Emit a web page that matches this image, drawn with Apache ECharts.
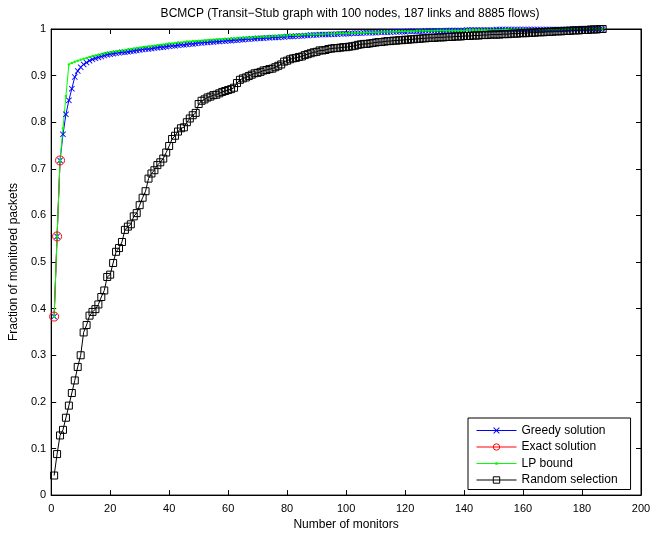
<!DOCTYPE html>
<html>
<head>
<meta charset="utf-8">
<script src="https://cdn.jsdelivr.net/npm/echarts@6/dist/echarts.min.js"></script>
<style>
  html, body { margin: 0; padding: 0; background: #fff; }
  #main { width: 654px; height: 536px; }
</style>
</head>
<body>
<div id="main"></div>
<script>
// number of monitors 1..187
const monitors = Array.from({ length: 187 }, (_, i) => i + 1);

const greedy = [
  0.383, 0.555, 0.718, 0.774, 0.817, 0.847, 0.872, 0.897, 0.910, 0.918,
  0.924, 0.928, 0.932, 0.935, 0.937, 0.939, 0.941, 0.943, 0.945, 0.946,
  0.947, 0.948, 0.949, 0.950, 0.950, 0.951, 0.952, 0.953, 0.954, 0.955,
  0.956, 0.957, 0.957, 0.958, 0.959, 0.960, 0.961, 0.961, 0.962, 0.963,
  0.964, 0.964, 0.965, 0.966, 0.966, 0.967, 0.968, 0.968, 0.969, 0.970,
  0.970, 0.971, 0.971, 0.972, 0.972, 0.973, 0.973, 0.974, 0.974, 0.975,
  0.975, 0.976, 0.976, 0.977, 0.977, 0.978, 0.978, 0.979, 0.979, 0.980,
  0.980, 0.980, 0.981, 0.981, 0.982, 0.982, 0.982, 0.983, 0.983, 0.984,
  0.984, 0.984, 0.985, 0.985, 0.985, 0.986, 0.986, 0.987, 0.987, 0.987,
  0.988, 0.988, 0.988, 0.988, 0.989, 0.989, 0.989, 0.990, 0.990, 0.990,
  0.990, 0.991, 0.991, 0.991, 0.991, 0.992, 0.992, 0.992, 0.992, 0.992,
  0.993, 0.993, 0.993, 0.993, 0.993, 0.994, 0.994, 0.994, 0.994, 0.994,
  0.995, 0.995, 0.995, 0.995, 0.995, 0.995, 0.996, 0.996, 0.996, 0.996,
  0.996, 0.996, 0.996, 0.997, 0.997, 0.997, 0.997, 0.997, 0.997, 0.997,
  0.998, 0.998, 0.998, 0.998, 0.998, 0.998, 0.998, 0.998, 0.998, 0.998,
  0.999, 0.999, 0.999, 0.999, 0.999, 0.999, 0.999, 0.999, 0.999, 0.999,
  0.999, 0.999, 0.999, 0.999, 0.999, 0.999, 0.999, 0.999, 0.999, 0.999,
  0.999, 0.999, 0.999, 0.999, 0.999, 1.000, 1.000, 1.000, 1.000, 1.000,
  1.000, 1.000, 1.000, 1.000, 1.000, 1.000, 1.000
];

const exactX = [1, 2, 3];
const exact = [0.383, 0.555, 0.718];

const lpBound = [
  0.383, 0.555, 0.718, 0.787, 0.856, 0.924, 0.927, 0.930, 0.932, 0.934,
  0.936, 0.938, 0.940, 0.942, 0.943, 0.945, 0.946, 0.948, 0.949, 0.950,
  0.951, 0.952, 0.953, 0.954, 0.955, 0.956, 0.957, 0.958, 0.959, 0.960,
  0.961, 0.962, 0.963, 0.963, 0.964, 0.965, 0.966, 0.967, 0.968, 0.969,
  0.969, 0.970, 0.971, 0.971, 0.972, 0.973, 0.973, 0.974, 0.974, 0.975,
  0.975, 0.976, 0.976, 0.977, 0.977, 0.978, 0.978, 0.978, 0.979, 0.979,
  0.980, 0.980, 0.980, 0.981, 0.981, 0.982, 0.982, 0.982, 0.983, 0.983,
  0.983, 0.984, 0.984, 0.984, 0.985, 0.985, 0.985, 0.986, 0.986, 0.986,
  0.987, 0.987, 0.987, 0.987, 0.988, 0.988, 0.988, 0.988, 0.989, 0.989,
  0.989, 0.989, 0.990, 0.990, 0.990, 0.990, 0.991, 0.991, 0.991, 0.991,
  0.991, 0.992, 0.992, 0.992, 0.992, 0.992, 0.993, 0.993, 0.993, 0.993,
  0.993, 0.994, 0.994, 0.994, 0.994, 0.994, 0.994, 0.995, 0.995, 0.995,
  0.995, 0.995, 0.995, 0.996, 0.996, 0.996, 0.996, 0.996, 0.996, 0.996,
  0.997, 0.997, 0.997, 0.997, 0.997, 0.997, 0.997, 0.997, 0.997, 0.997,
  0.998, 0.998, 0.998, 0.998, 0.998, 0.998, 0.998, 0.998, 0.998, 0.998,
  0.998, 0.998, 0.998, 0.999, 0.999, 0.999, 0.999, 0.999, 0.999, 0.999,
  0.999, 0.999, 0.999, 0.999, 0.999, 0.999, 0.999, 0.999, 0.999, 0.999,
  0.999, 0.999, 1.000, 1.000, 1.000, 1.000, 1.000, 1.000, 1.000, 1.000,
  1.000, 1.000, 1.000, 1.000, 1.000, 1.000, 1.000
];

const randomSel = [
  0.042, 0.088, 0.128, 0.140, 0.166, 0.192, 0.219, 0.246, 0.275, 0.300,
  0.349, 0.365, 0.385, 0.393, 0.399, 0.409, 0.425, 0.439, 0.468, 0.473,
  0.498, 0.522, 0.530, 0.543, 0.569, 0.576, 0.581, 0.598, 0.605, 0.622,
  0.638, 0.652, 0.679, 0.690, 0.697, 0.708, 0.714, 0.722, 0.735, 0.749,
  0.764, 0.771, 0.780, 0.787, 0.789, 0.800, 0.808, 0.815, 0.820, 0.839,
  0.846, 0.849, 0.853, 0.855, 0.858, 0.859, 0.862, 0.865, 0.867, 0.869,
  0.871, 0.874, 0.884, 0.891, 0.894, 0.896, 0.899, 0.902, 0.905, 0.906,
  0.908, 0.911, 0.912, 0.914, 0.915, 0.918, 0.921, 0.924, 0.930, 0.932,
  0.935, 0.937, 0.938, 0.940, 0.941, 0.944, 0.946, 0.948, 0.950, 0.951,
  0.954, 0.954, 0.955, 0.957, 0.958, 0.959, 0.959, 0.960, 0.961, 0.961,
  0.962, 0.963, 0.964, 0.966, 0.967, 0.968, 0.968, 0.969, 0.970, 0.971,
  0.972, 0.972, 0.973, 0.974, 0.974, 0.975, 0.975, 0.976, 0.976, 0.977,
  0.977, 0.978, 0.978, 0.979, 0.979, 0.980, 0.980, 0.981, 0.981, 0.981,
  0.982, 0.982, 0.982, 0.983, 0.983, 0.983, 0.984, 0.984, 0.984, 0.985,
  0.985, 0.985, 0.986, 0.986, 0.986, 0.987, 0.987, 0.987, 0.988, 0.988,
  0.988, 0.988, 0.989, 0.989, 0.989, 0.990, 0.990, 0.990, 0.991, 0.991,
  0.991, 0.992, 0.992, 0.992, 0.993, 0.993, 0.993, 0.994, 0.994, 0.994,
  0.995, 0.995, 0.995, 0.996, 0.996, 0.996, 0.997, 0.997, 0.997, 0.998,
  0.998, 0.998, 0.999, 0.999, 0.999, 1.000, 1.000
];

const seriesNames = ["Greedy solution", "Exact solution", "LP bound", "Random selection"];
const seriesColors = ["#0000ff", "#ff0000", "#00ff00", "#000000"];

const pairs = (xs, ys) => xs.map((x, i) => [x, ys[i]]);

const FONT = "Liberation Sans, Arial, Helvetica, sans-serif";
const crossPath = "path://M0,1L1,0L5,4L9,0L10,1L6,5L10,9L9,10L5,6L1,10L0,9L4,5Z";
// legend sample for LP bound: thin line with a small dot in the middle
const lpIcon = "path://M0,0.75h18.75v1h-18.75z M18.75,0h2.5v2.5h-2.5z M21.25,0.75h18.75v1h-18.75z";
const clear = "rgba(0,0,0,0)";

const chart = echarts.init(document.getElementById("main"));

const axisCommon = {
  axisLine: { show: true, onZero: false, lineStyle: { color: "#000", width: 1 } },
  axisTick: { show: true, inside: true, length: 5, lineStyle: { color: "#000" } },
  splitLine: { show: false },
};

const legendItems = [
  { name: seriesNames[0], itemStyle: { color: seriesColors[0], borderWidth: 0 } },
  { name: seriesNames[1], itemStyle: { color: clear, borderColor: seriesColors[1], borderWidth: 1 } },
  { name: seriesNames[2], icon: lpIcon, itemStyle: { color: seriesColors[2], borderWidth: 0 } },
  { name: seriesNames[3], itemStyle: { color: clear, borderColor: seriesColors[3], borderWidth: 1 } },
].map((d, i) => ({ ...d, lineStyle: { color: seriesColors[i], width: 1 } }));

const options = {
  animation: false,
  backgroundColor: "#fff",
  title: {
    text: "BCMCP (Transit\u2212Stub graph with 100 nodes, 187 links and 8885 flows)",
    left: 345,
    textAlign: "center",
    top: 3,
    textStyle: { fontFamily: FONT, fontSize: 12, fontWeight: "normal", color: "#000" },
  },
  grid: { left: 49, right: 13, top: 29, bottom: 37, show: true, borderColor: "#000", borderWidth: 1 },
  legend: {
    data: legendItems,
    orient: "vertical",
    left: 468,
    top: 418,
    itemWidth: 40,
    itemHeight: 8,
    itemGap: 3.5,
    padding: [6, 13, 3, 8],
    borderColor: "#000",
    borderWidth: 1,
    backgroundColor: "#fff",
    textStyle: { fontFamily: FONT, fontSize: 12, color: "#000", lineHeight: 13 },
  },
  xAxis: [
    {
      ...axisCommon,
      type: "value",
      min: 0,
      max: 200,
      interval: 20,
      name: "Number of monitors",
      nameLocation: "middle",
      nameGap: 17,
      nameTextStyle: { fontFamily: FONT, fontSize: 12, color: "#000" },
      axisLabel: { fontFamily: FONT, fontSize: 11, color: "#000", margin: 8 },
    },
    {
      ...axisCommon,
      type: "value",
      position: "top",
      min: 0,
      max: 200,
      interval: 20,
      axisLabel: { show: false },
    },
  ],
  yAxis: [
    {
      ...axisCommon,
      type: "value",
      min: 0,
      max: 1,
      interval: 0.1,
      name: "Fraction of monitored packets",
      nameLocation: "middle",
      nameGap: 31,
      nameTextStyle: { fontFamily: FONT, fontSize: 12, color: "#000" },
      axisLabel: { fontFamily: FONT, fontSize: 11, color: "#000", margin: 5 },
    },
    {
      ...axisCommon,
      type: "value",
      position: "right",
      min: 0,
      max: 1,
      interval: 0.1,
      axisLabel: { show: false },
    },
  ],
  series: [
    {
      name: seriesNames[0],
      type: "line",
      data: pairs(monitors, greedy),
      showAllSymbol: true,
      symbol: crossPath,
      symbolSize: 6,
      lineStyle: { color: seriesColors[0], width: 1 },
      itemStyle: { color: seriesColors[0] },
    },
    {
      name: seriesNames[1],
      type: "line",
      data: pairs(exactX, exact),
      showAllSymbol: true,
      symbol: "circle",
      symbolSize: 9,
      lineStyle: { color: seriesColors[1], width: 1 },
      itemStyle: { color: clear, borderColor: seriesColors[1], borderWidth: 1 },
    },
    {
      name: seriesNames[2],
      type: "line",
      data: pairs(monitors, lpBound),
      showAllSymbol: true,
      symbol: "circle",
      symbolSize: 2.5,
      lineStyle: { color: seriesColors[2], width: 1 },
      itemStyle: { color: seriesColors[2] },
    },
    {
      name: seriesNames[3],
      type: "line",
      data: pairs(monitors, randomSel),
      showAllSymbol: true,
      symbol: "rect",
      symbolSize: 7,
      lineStyle: { color: seriesColors[3], width: 1 },
      itemStyle: { color: clear, borderColor: seriesColors[3], borderWidth: 1 },
    },
  ],
};

chart.setOption(options);
</script>
</body>
</html>
